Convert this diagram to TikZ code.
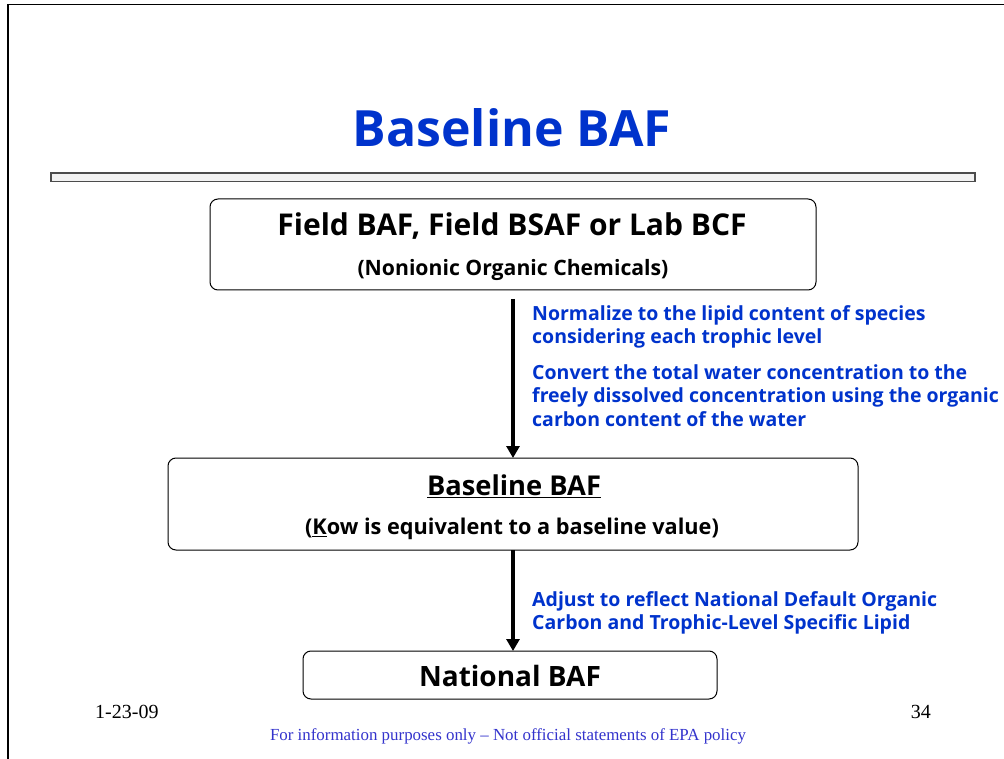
\documentclass[tikz,border=0pt]{standalone}
\usepackage{fontspec}
\setmainfont{Liberation Serif}
\newfontfamily\comic{Open Sans}
\usetikzlibrary{arrows.meta}
\definecolor{ttlblue}{RGB}{0,51,204}
\definecolor{ftblue}{RGB}{51,51,204}
\tikzset{
  boxnode/.style={draw=black, line width=1pt, rounded corners=8pt, inner sep=0pt},
  flowarrow/.style={line width=3.5pt, -{Triangle[width=13pt,length=12pt]}},
  bluetext/.style={anchor=north west, align=left, text=ttlblue, font=\comic\bfseries\fontsize{19.5}{23.5}\selectfont, inner sep=0pt},
  boxtext/.style={inner sep=0pt, font=\comic\bfseries}
}
\begin{document}
\begin{tikzpicture}[x=1pt,y=-1pt]
\useasboundingbox (0,0) rectangle (1004,759);
% frame
\draw[line width=1.5pt] (8,759) -- (8,4.5) -- (1004,4.5);
% title
\node[inner sep=0pt, text=ttlblue, font=\comic\bfseries\fontsize{50}{56}\selectfont] (title) at (512,128) {Baseline BAF};
% separator bar
\draw[draw=black!70, fill=black!5, line width=1.2pt] (51,173) rectangle (975,181.5);
% boxes
\node[boxnode, minimum width=606pt, minimum height=91pt] (b1) at (513,244.5) {};
\node[boxnode, minimum width=690pt, minimum height=92pt] (b2) at (513,504) {};
\node[boxnode, minimum width=414pt, minimum height=48pt] (b3) at (510,675) {};
% box texts
\node[boxtext, font=\comic\bfseries\fontsize{30}{34}\selectfont] (t1a) at (512,226) {Field BAF, Field BSAF or Lab BCF};
\node[boxtext, font=\comic\bfseries\fontsize{21.2}{24}\selectfont] (t1b) at (513,270) {(Nonionic Organic Chemicals)};
\node[boxtext, font=\comic\bfseries\fontsize{27.3}{30}\selectfont] (t2a) at (514,486) {\underline{Baseline BAF}};
\node[boxtext, font=\comic\bfseries\fontsize{21.7}{24}\selectfont] (t2b) at (512,529) {(\underline{K}ow is equivalent to a baseline value)};
\node[boxtext, font=\comic\bfseries\fontsize{28}{32}\selectfont] (t3) at (510,676) {National BAF};
% arrows
\coordinate (a1s) at (513,299);
\coordinate (a1e) at (513,458);
\draw[flowarrow] (a1s) -- (a1e);
\coordinate (a2s) at (513,550);
\coordinate (a2e) at (513,651);
\draw[flowarrow] (a2s) -- (a2e);
% blue annotations
\node[bluetext] (n1) at (532,305) {Normalize to the lipid content of species\\considering each trophic level};
\node[bluetext] (n2) at (532,364) {Convert the total water concentration to the\\freely dissolved concentration using the organic\\carbon content of the water};
\node[bluetext] (n3) at (532,591) {Adjust to reflect National Default Organic\\Carbon and Trophic-Level Specific Lipid};
% footer
\node[inner sep=0pt, anchor=west, font=\fontsize{20}{22}\selectfont] (date) at (95,712) {1-23-09};
\node[inner sep=0pt, anchor=east, font=\fontsize{20}{22}\selectfont] (page) at (931,712) {34};
\node[inner sep=0pt, text=ftblue, font=\fontsize{16.9}{19}\selectfont] (foot) at (508,736) {For information purposes only -- Not official statements of EPA policy};
\end{tikzpicture}
\end{document}
